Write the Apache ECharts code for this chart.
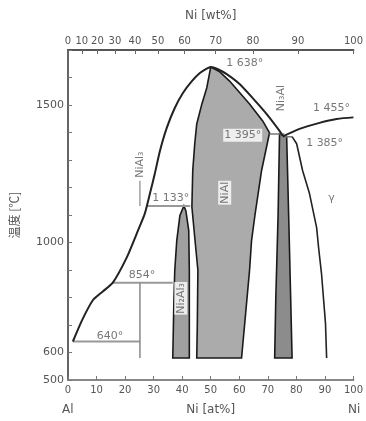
<!DOCTYPE html>
<html><head><meta charset="utf-8">
<script src="https://cdn.jsdelivr.net/npm/echarts@6/dist/echarts.min.js"></script>
<style>html,body{margin:0;padding:0;background:#fff}#c{width:366px;height:421px}</style>
</head><body><div id="c"></div>
<script>
// ---- data (at% Ni, temperature °C) ----
const wtTicks = [0,10,20,30,40,50,60,70,80,90,100];
const tempLabelValues = [500,600,1000,1500];
const liquidus = [[1.7,640],[4.9,717],[8.7,790],[12.2,822],[15.7,854],[20.6,946],[24.5,1043],[26.9,1105],[28.7,1178],[30.4,1250],[32.2,1333],[34.6,1417],[37.4,1489],[40.2,1543],[43.4,1587],[46.2,1616],[48.6,1632],[50.0,1638],[52.5,1630],[55.6,1612],[60.1,1576],[64.7,1525],[69.6,1467],[74.1,1406],[75.2,1388]];
const niLiquidus = [[75.2,1385],[81.1,1413],[88.1,1435],[94.1,1449],[100,1455]];
const gammaSolidus = [[78.5,1385],[80.1,1359],[82.2,1261],[84.6,1178],[87.1,1054],[87.8,980],[88.8,888],[90.2,707],[90.6,580]];
const niAlLeft = [[50.0,1638],[48.6,1562],[46.9,1504],[45.1,1431],[44.4,1359],[43.7,1261],[43.4,1130],[44.4,1018],[45.5,899],[45.3,700],[45.1,580]];
const niAlRight = [[60.8,580],[62.3,750],[63.6,899],[64.3,1007],[65.5,1100],[67.8,1261],[70.6,1399],[68.2,1442],[63.6,1504],[56.6,1587],[53.0,1622],[50.0,1638]];
const ni2Al3Left = [[40.6,1133],[39.2,1098],[38.1,1007],[37.4,899],[37.1,790],[36.7,580]];
const ni2Al3Right = [[42.5,580],[42.5,899],[42.3,1043],[41.3,1115],[40.6,1133]];
const ni3AlLeft = [[74.1,1395],[73.6,1100],[72.8,800],[72.4,580]];
const ni3AlRight = [[78.5,580],[78.0,800],[77.3,1100],[76.6,1385]];
const iso640 = [[1.7,640],[25.2,640]];
const iso854 = [[15.7,854],[36.7,854]];
const iso1133 = [[27.6,1133],[42.8,1133]];
const iso1395 = [[70.6,1395],[75.8,1395]];
const iso1385 = [[75.2,1385],[78.5,1385]];
const al3Ni = [[25.2,854],[25.2,580]];
const al3NiLeader = [[25.2,1133],[25.2,1225]];
const annTexts = ['640°','854°','1 133°','1 638°','1 395°','1 455°','1 385°','γ','NiAl','Ni₂Al₃','Ni₃Al','NiAl₃'];
const annPos = [[14.7,659],[25.9,880],[36.0,1163],[61.9,1652],[61.2,1390],[92.3,1489],[89.9,1362],[92.3,1163],[54.9,1181],[39.5,797],[74.8,1525],[25.2,1283]];

// ---- chart ----
const molarNi = 58.69, molarAl = 26.98;
const wtToAt = w => { const n = w/molarNi, a = (100-w)/molarAl; return 100*n/(n+a); };
const wtPositions = wtTicks.map(wtToAt);
const txt = '#555';
const font = 'DejaVu Sans';
const rotatedSet = new Set(['NiAl','Ni₂Al₃','Ni₃Al','NiAl₃']);
const boxedSet = new Set(['1 395°','NiAl','Ni₂Al₃','Ni₃Al','NiAl₃']);

function polySeries(pts, fill, stroke){
  return {type:'custom', coordinateSystem:'cartesian2d', data:[[pts[0][0],pts[0][1]]], silent:true, z:1,
    renderItem:(params, api)=>({type:'polygon', shape:{points: pts.map(p=>api.coord(p))},
      style:{fill:fill, stroke:stroke, lineWidth:1.6}})};
}
function lineSeries(pts, color, width, smooth){
  return {type:'line', data:pts, showSymbol:false, silent:true, smooth:smooth||false, z:3,
    lineStyle:{color:color, width:width}};
}
const chart = echarts.init(document.getElementById('c'));
chart.setOption({
  animation:false,
  backgroundColor:'#fff',
  grid:{left:68, right:12, top:50, bottom:41},
  xAxis:[
    {type:'value', min:0, max:100, interval:10, position:'bottom',
     name:'Ni [at%]', nameLocation:'middle', nameGap:24,
     nameTextStyle:{color:txt, fontSize:12, fontFamily:font},
     axisLine:{lineStyle:{color:'#888', width:2}},
     axisTick:{inside:true, length:4, lineStyle:{color:'#777'}},
     axisLabel:{color:txt, fontSize:10, fontFamily:font, margin:5},
     splitLine:{show:false}},
    {type:'value', min:0, max:100, position:'top',
     name:'Ni [wt%]', nameLocation:'middle', nameGap:28,
     nameTextStyle:{color:txt, fontSize:12, fontFamily:font},
     axisLine:{lineStyle:{color:'#555', width:2}},
     axisTick:{inside:true, length:4, customValues:wtPositions, lineStyle:{color:'#666'}},
     axisLabel:{color:txt, fontSize:10, fontFamily:font, margin:4, customValues:wtPositions,
       formatter:v=>{let bi=0,bd=1e9; wtPositions.forEach((p,i)=>{const d=Math.abs(p-v); if(d<bd){bd=d;bi=i;}}); return String(wtTicks[bi]);}},
     splitLine:{show:false}}
  ],
  yAxis:[
    {type:'value', min:500, max:1700, interval:100,
     name:'温度 [℃]', nameLocation:'middle', nameGap:48, nameRotate:90,
     nameTextStyle:{color:txt, fontSize:12, fontFamily:'Noto Sans CJK JP'},
     axisLine:{show:true, lineStyle:{color:'#888', width:2}},
     axisTick:{inside:true, length:4, lineStyle:{color:'#777'}},
     axisLabel:{color:txt, fontSize:11, fontFamily:font, margin:4, customValues:tempLabelValues,
       formatter:v=>String(v)},
     splitLine:{show:false}},
    {type:'value', min:500, max:1700, position:'right',
     axisLine:{show:true, lineStyle:{color:'#666', width:2}},
     axisTick:{show:false}, axisLabel:{show:false}, splitLine:{show:false}}
  ],
  graphic:[
    {type:'text', left:62, top:404, style:{text:'Al', fill:txt, font:'12px "DejaVu Sans"'}},
    {type:'text', left:348, top:404, style:{text:'Ni', fill:txt, font:'12px "DejaVu Sans"'}}
  ],
  series:[
    polySeries(niAlLeft.concat(niAlRight), '#ababab', '#1a1a1a'),
    polySeries(ni2Al3Left.concat(ni2Al3Right), '#a0a0a0', '#1a1a1a'),
    polySeries(ni3AlLeft.concat(ni3AlRight), '#8c8c8c', '#1a1a1a'),
    lineSeries(iso640, '#999', 2),
    lineSeries(iso854, '#999', 2),
    lineSeries(iso1133, '#999', 2),
    lineSeries(iso1395, '#777', 1.5),
    lineSeries(iso1385, '#777', 1.5),
    lineSeries(al3Ni, '#888', 1.5),
    lineSeries(al3NiLeader, '#888', 1.2),
    lineSeries(liquidus, '#222', 2, 0.2),
    lineSeries(niLiquidus, '#222', 2, 0.3),
    lineSeries(gammaSolidus, '#222', 1.6, false),
    {type:'scatter', symbolSize:0, silent:true, z:10,
     data: annTexts.map((t,i)=>({value:annPos[i],
       label:{show:true, position:'inside', formatter:t, color:txt, fontSize:11, fontFamily:font,
         rotate: rotatedSet.has(t)?90:0,
         backgroundColor: boxedSet.has(t)?'#fff':'transparent', padding:[1,1]}}))}
  ]
});
</script></body></html>
